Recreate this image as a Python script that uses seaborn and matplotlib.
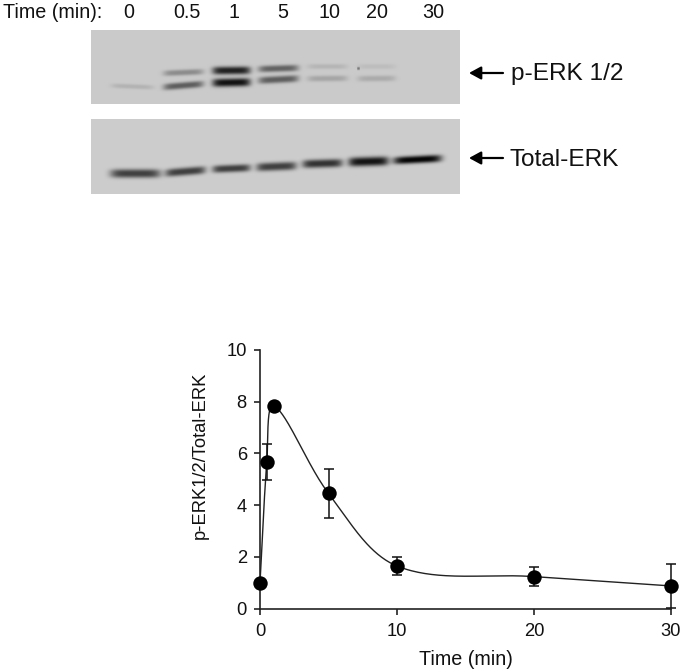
import numpy as np
import pandas as pd
import matplotlib
matplotlib.use("Agg")
import matplotlib.pyplot as plt
import seaborn as sns

sns.set_style("white")
plt.rcParams['font.family'] = ['Liberation Sans', 'DejaVu Sans']

W, H = 683, 672

# graph values
time_min = [0, 0.5, 1, 5, 10, 20, 30]
ratio = [1.0, 5.68, 7.85, 4.46, 1.65, 1.24, 0.88]
err = [0, 0.7, 0, 0.95, 0.35, 0.37, 0.85]

# blot lanes
lane_labels = ["0", "0.5", "1", "5", "10", "20", "30"]
lane_label_x = [129, 187, 234, 283, 329, 377, 433]

# bands, pixels relative to the panel corner:
# x centre, half width, y centre, y half height, darkness, slope
perk_x = [41, 92, 140, 187, 236, 285, 92, 140, 187, 236, 285, 267]
perk_hw = [21, 20, 19, 20, 20, 19, 20, 19, 20, 20, 19, 1.2]
perk_y = [56, 55, 52, 49, 48, 48, 42, 40, 38, 36, 36, 38]
perk_hh = [2.4, 3.4, 4.2, 3.6, 3.0, 3.0, 3.0, 4.0, 3.4, 2.6, 2.6, 1.5]
perk_dark = [0.09, 0.42, 0.72, 0.42, 0.14, 0.12, 0.24, 0.66, 0.40, 0.08, 0.05, 0.3]
perk_slope = [0.04, -0.08, -0.02, -0.05, -0.01, -0.01, -0.04, -0.01, -0.03, 0, 0, 0]

total_x = [44, 94, 140, 185, 231, 277, 326]
total_hw = [25, 20, 19, 20, 20, 20, 24]
total_y = [54, 52, 49, 47, 44, 42, 40]
total_hh = [4.4, 4.0, 3.8, 4.2, 4.2, 4.6, 3.8]
total_dark = [0.55, 0.55, 0.55, 0.55, 0.6, 0.72, 0.78]
total_slope = [0.0, -0.08, -0.04, -0.04, -0.03, -0.03, -0.05]


def blot(shape, xs, hws, ys, hhs, darks, slopes, base):
    yy, xx = np.mgrid[0:shape[0], 0:shape[1]]
    img = np.full(shape, base, dtype=float)
    for x, hw, y, hh, d, s in zip(xs, hws, ys, hhs, darks, slopes):
        across = np.exp(-np.abs((xx - x) / hw) ** 6)
        down = np.exp(-np.abs((yy - y - s * (xx - x)) / hh) ** 2.5)
        img -= d * across * down
    return np.clip(img, 0, 1)


def px_axes(fig, x0, y0, x1, y1):
    return fig.add_axes([x0 / W, 1 - y1 / H, (x1 - x0) / W, (y1 - y0) / H])


fig = plt.figure(figsize=(W / 100, H / 100), dpi=100)

ax1 = px_axes(fig, 91, 30, 460, 104)
sns.heatmap(blot((74, 369), perk_x, perk_hw, perk_y, perk_hh, perk_dark, perk_slope, 0.79),
            ax=ax1, cmap="gray", vmin=0, vmax=1, cbar=False,
            xticklabels=False, yticklabels=False, rasterized=True)

ax2 = px_axes(fig, 91, 119, 460, 194)
sns.heatmap(blot((75, 369), total_x, total_hw, total_y, total_hh, total_dark, total_slope, 0.80),
            ax=ax2, cmap="gray", vmin=0, vmax=1, cbar=False,
            xticklabels=False, yticklabels=False, rasterized=True)

fig.text(3 / W, 1 - 13 / H, "Time (min):", fontsize=14.2, va="center", ha="left", color="#111111")
for lab, x in zip(lane_labels, lane_label_x):
    fig.text(x / W, 1 - 13 / H, lab, fontsize=14.2, va="center", ha="center", color="#111111")

fig.text(511 / W, 1 - 74 / H, "p-ERK 1/2", fontsize=17.6, va="center", ha="left", color="#111111")
fig.text(510 / W, 1 - 160 / H, "Total-ERK", fontsize=17.6, va="center", ha="left", color="#111111")
for yp in [73, 158]:
    fig.add_artist(matplotlib.patches.FancyArrowPatch(
        (503 / W, 1 - yp / H), (469 / W, 1 - yp / H), transform=fig.transFigure,
        arrowstyle="-|>,head_length=0.55,head_width=0.3", mutation_scale=13,
        lw=1.6, color="black", shrinkA=0, shrinkB=0))

# graph
ax = px_axes(fig, 260, 350, 671, 608.7)
ax.set_facecolor("none")

# smoothed connecting line, done in pixel space like a spreadsheet smooth line
sx, sy = 411 / 30, 258.7 / 10
P = np.column_stack([np.array(time_min) * sx, np.array(ratio) * sy])
curve = []
for i in range(len(P) - 1):
    p0, p3 = P[i], P[i + 1]
    prev_p = P[i - 1] if i > 0 else p0
    next_p = P[i + 2] if i + 2 < len(P) else p3
    d0 = np.linalg.norm(p0 - prev_p)
    d1 = np.linalg.norm(p3 - p0)
    d2 = np.linalg.norm(next_p - p3)
    c1 = p0 + (p3 - prev_p) * d1 / (d0 + d1) * 0.34
    c2 = p3 - (next_p - p0) * d1 / (d1 + d2) * 0.34
    t = np.linspace(0, 1, 60)[:, None]
    curve.append((1 - t) ** 3 * p0 + 3 * (1 - t) ** 2 * t * c1 + 3 * (1 - t) * t ** 2 * c2 + t ** 3 * p3)
curve = np.vstack(curve)
curve_df = pd.DataFrame({"t": curve[:, 0] / sx, "r": curve[:, 1] / sy})
sns.lineplot(data=curve_df, x="t", y="r", estimator=None, sort=False, ax=ax,
             color="#222222", lw=1.0, zorder=2)

ax.errorbar(time_min, ratio, yerr=err, fmt="none", ecolor="#111111", elinewidth=1.1,
            capsize=3.6, capthick=1.1, zorder=3, clip_on=False)
sns.scatterplot(x=time_min, y=ratio, ax=ax, s=108, color="black", edgecolor="black",
                linewidth=0, zorder=4, clip_on=False)

ax.set_xlim(0, 30)
ax.set_ylim(0, 10)
ax.set_xticks([0, 10, 20, 30])
ax.set_yticks([0, 2, 4, 6, 8, 10])
ax.tick_params(axis="y", left=True, direction="out", length=4.5, width=1.1,
               labelsize=13.2, pad=5, colors="#111111")
ax.tick_params(axis="x", bottom=True, direction="out", length=4.5, width=1.1,
               labelsize=13.2, pad=6, colors="#111111")
sns.despine(ax=ax)
for s in ["left", "bottom"]:
    ax.spines[s].set_linewidth(1.2)
    ax.spines[s].set_color("#222222")
ax.set_xlabel("Time (min)", fontsize=14.2, labelpad=7, color="#111111")
ax.set_ylabel("p-ERK1/2/Total-ERK", fontsize=13.2, color="#111111")
ax.yaxis.set_label_coords((209 - 260) / 411, (608.7 - 455) / 258.7)

fig.savefig("out.png", dpi=100)
